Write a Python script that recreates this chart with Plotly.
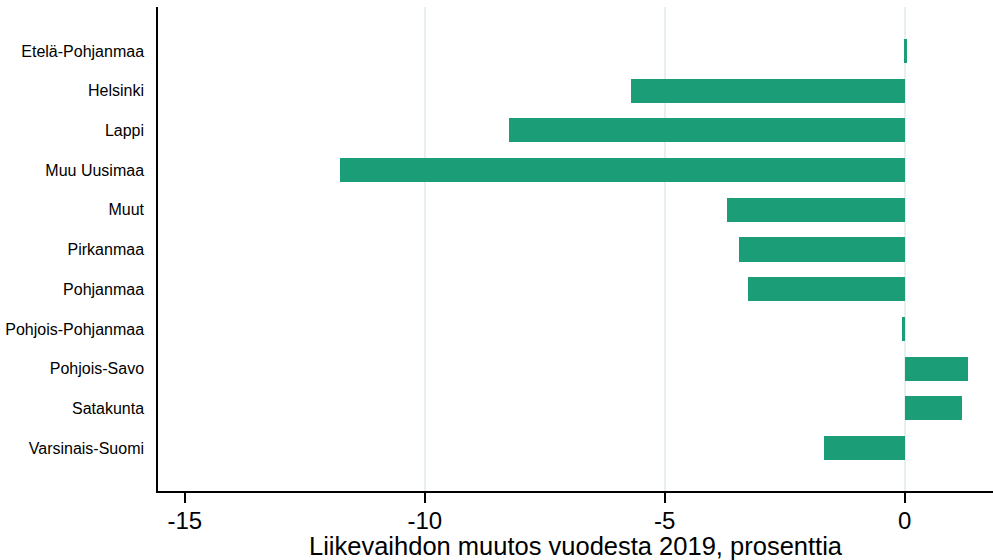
import plotly.graph_objects as go

regions = ["Etelä-Pohjanmaa", "Helsinki", "Lappi", "Muu Uusimaa", "Muut", "Pirkanmaa",
           "Pohjanmaa", "Pohjois-Pohjanmaa", "Pohjois-Savo", "Satakunta", "Varsinais-Suomi"]
change = [0.04, -5.70, -8.24, -11.76, -3.70, -3.45, -3.26, -0.05, 1.32, 1.20, -1.68]
x_ticks = [-15, -10, -5, 0]
grid_ticks = [-10, -5, 0]
x_title = "Liikevaihdon muutos vuodesta 2019, prosenttia"

fig = go.Figure()
# invisible trace to activate xaxis2 gridlines
fig.add_trace(go.Scatter(x=[None], y=[None], xaxis="x2", yaxis="y",
                         showlegend=False, hoverinfo="skip"))
fig.add_trace(go.Bar(
    x=change, y=regions, orientation="h", width=0.605,
    marker=dict(color="#1b9e77", line=dict(width=0)),
    xaxis="x", yaxis="y", showlegend=False,
))

xr = [-15.56, 1.84]
fig.update_layout(
    width=993, height=560,
    margin=dict(l=158, r=0, t=7, b=69, autoexpand=False),
    paper_bgcolor="white", plot_bgcolor="white",
    font=dict(family="Liberation Sans, Arial, sans-serif", color="black"),
    xaxis=dict(
        range=xr, tickvals=x_ticks, ticktext=[str(v) for v in x_ticks],
        showgrid=False, zeroline=False,
        showline=True, linecolor="black", linewidth=1.5,
        ticks="outside", ticklen=10, tickwidth=1.5, tickcolor="black",
        tickfont=dict(size=24), automargin=False, ticklabelstandoff=-3,
        title=dict(text=x_title, font=dict(size=25.5), standoff=3),
    ),
    xaxis2=dict(
        range=xr, overlaying="x", tickvals=grid_ticks, showticklabels=False,
        showgrid=True, gridcolor="#e8eff1", gridwidth=1.5, zeroline=False,
        showline=False, ticks="",
    ),
    yaxis=dict(
        type="category", categoryorder="array", categoryarray=regions,
        range=[11.083, -1.108], automargin=False,
        showgrid=False, zeroline=False,
        showline=True, linecolor="black", linewidth=1.5,
        ticks="", tickfont=dict(size=16), ticklabelstandoff=9,
    ),
    bargap=0,
)

fig.write_html("out.html", config={"displayModeBar": False},
               post_script="document.body.style.margin='0';")
